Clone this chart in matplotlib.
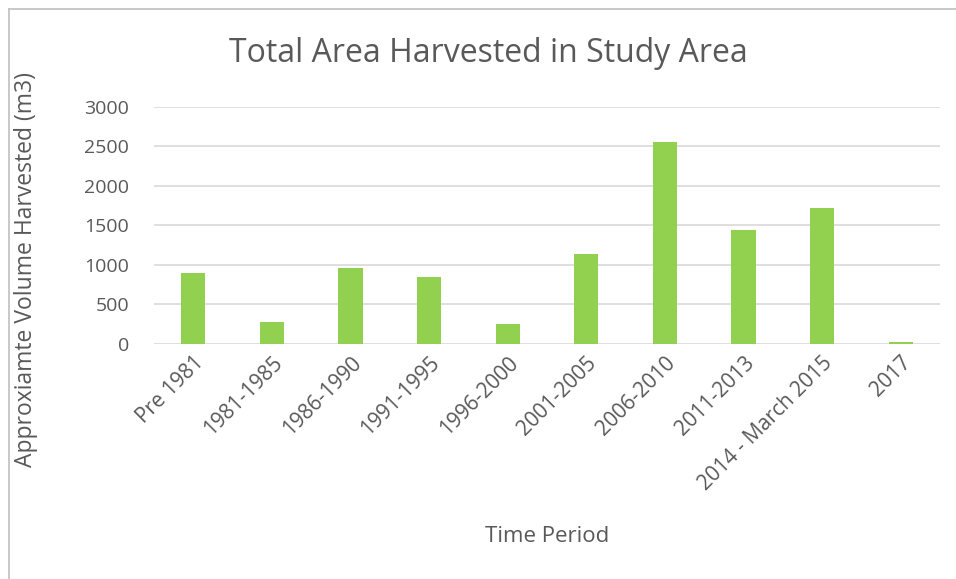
import numpy as np
import matplotlib

matplotlib.use("Agg")
import matplotlib.pyplot as plt
from matplotlib.lines import Line2D

plt.rcParams["font.family"] = ["Open Sans", "DejaVu Sans"]

periods = ["Pre 1981", "1981-1985", "1986-1990", "1991-1995", "1996-2000",
           "2001-2005", "2006-2010", "2011-2013", "2014 - March 2015", "2017"]
volume = [900, 280, 960, 845, 250, 1140, 2555, 1440, 1715, 20]
y_ticks = [0, 500, 1000, 1500, 2000, 2500, 3000]

text_col = "#595959"
bar_col = "#92D050"
grid_col = "#D9D9D9"

fig = plt.figure(figsize=(9.56, 5.79), dpi=100)
ax = fig.add_axes([154 / 956, 1 - 344 / 579, (940 - 154) / 956, (344 - 106.7) / 579])

x = np.arange(len(periods))
ax.bar(x, volume, width=0.31, color=bar_col, zorder=3)

ax.set_xlim(-0.5, len(periods) - 0.5)
ax.set_ylim(0, 3000)
ax.set_yticks(y_ticks)
ax.set_xticks(x)
ax.set_xticklabels(periods, rotation=45, ha="right", rotation_mode="anchor", fontsize=15)
ax.tick_params(axis="both", length=0, labelcolor=text_col)
ax.tick_params(axis="y", pad=18, labelsize=14)
ax.tick_params(axis="x", pad=6)
ax.grid(axis="y", color=grid_col, linewidth=1.2, zorder=0)
for s in ax.spines.values():
    s.set_visible(False)

ax.set_ylabel("Approxiamte Volume Harvested (m3)", fontsize=16.5, color=text_col)
ax.yaxis.set_label_coords(-0.148, 0.316)
fig.text(547 / 956, 1 - 536 / 579, "Time Period", ha="center", va="center",
         fontsize=16, color=text_col)
fig.text(488 / 956, 1 - 53 / 579, "Total Area Harvested in Study Area", ha="center",
         va="center", fontsize=23, color=text_col)

# chart frame (only top and left visible in crop)
fig.add_artist(Line2D([8.5 / 956, 1], [1 - 8.5 / 579, 1 - 8.5 / 579],
                      transform=fig.transFigure, color="#BFBFBF", linewidth=1.2))
fig.add_artist(Line2D([8.5 / 956, 8.5 / 956], [0, 1 - 8.5 / 579],
                      transform=fig.transFigure, color="#BFBFBF", linewidth=1.2))

fig.savefig("out.png", dpi=100)
plt.close(fig)
